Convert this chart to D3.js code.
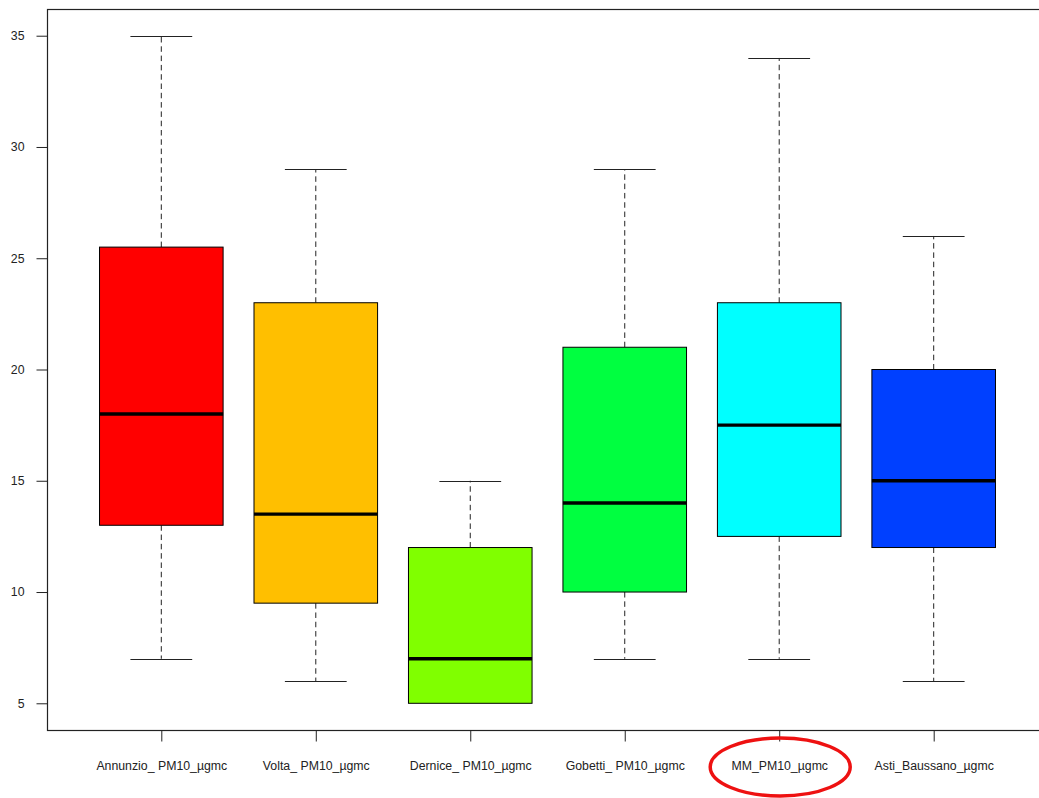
<!DOCTYPE html>
<html>
<head>
<meta charset="utf-8">
<script src="https://cdn.jsdelivr.net/npm/d3@7"></script>
<style>
  html, body { margin: 0; padding: 0; background: #fff; }
  svg { display: block; }
  text { font-family: "Liberation Sans", Arial, sans-serif; fill: #222; }
</style>
</head>
<body>
<svg id="chart" width="1039" height="798"></svg>
<script>
// Station names and five-number summaries of PM10 (µg/m³)
const stations = ["Annunzio_ PM10_\u00b5gmc", "Volta_ PM10_\u00b5gmc", "Dernice_ PM10_\u00b5gmc",
                  "Gobetti_ PM10_\u00b5gmc", "MM_PM10_\u00b5gmc", "Asti_Baussano_\u00b5gmc"];
const lowWhisker  = [7, 6, 5, 7, 7, 6];
const lowerQuart  = [13, 9.5, 5, 10, 12.5, 12];
const medians     = [18, 13.5, 7, 14, 17.5, 15];
const upperQuart  = [25.5, 23, 12, 21, 23, 20];
const highWhisker = [35, 29, 15, 29, 34, 26];
const boxColors   = ["#FF0000", "#FFBF00", "#80FF00", "#00FF40", "#00FFFF", "#0040FF"];
const yTicks      = [5, 10, 15, 20, 25, 30, 35];
const highlighted = "MM_PM10_\u00b5gmc";

const svg = d3.select("#chart");

// Plot region (R-style 4% padding on both axes)
const plotLeft = 47, plotTop = 9, plotRight = 1048, plotBottom = 730;
const n = stations.length;
const x = d3.scaleLinear().domain([0.26, n + 0.74]).range([plotLeft, plotRight]);
const y = d3.scaleLinear().domain([3.8, 36.2]).range([plotBottom, plotTop]);
const step = x(2) - x(1);
const boxW = 0.8 * step;
const capW = boxW / 2;
const dash = "5.5,3.8";

const data = stations.map((s, i) => ({
  name: s, pos: i + 1,
  lo: lowWhisker[i], q1: lowerQuart[i], med: medians[i], q3: upperQuart[i], hi: highWhisker[i],
  color: boxColors[i]
}));

const g = svg.append("g");

// whiskers (dashed)
g.selectAll(".whisker-up").data(data).join("line")
  .attr("x1", d => x(d.pos)).attr("x2", d => x(d.pos))
  .attr("y1", d => y(d.q3)).attr("y2", d => y(d.hi))
  .attr("stroke", "#222").attr("stroke-dasharray", dash);
g.selectAll(".whisker-down").data(data.filter(d => d.lo < d.q1)).join("line")
  .attr("x1", d => x(d.pos)).attr("x2", d => x(d.pos))
  .attr("y1", d => y(d.q1)).attr("y2", d => y(d.lo))
  .attr("stroke", "#222").attr("stroke-dasharray", dash);

// staples
["hi", "lo"].forEach(k => {
  g.selectAll(".cap-" + k).data(data.filter(d => k === "hi" || d.lo < d.q1)).join("line")
    .attr("x1", d => x(d.pos) - capW / 2).attr("x2", d => x(d.pos) + capW / 2)
    .attr("y1", d => Math.round(y(d[k])) + 0.5).attr("y2", d => Math.round(y(d[k])) + 0.5)
    .attr("stroke", "#222").attr("stroke-width", 1);
});

// boxes
g.selectAll(".box").data(data).join("rect")
  .attr("x", d => x(d.pos) - boxW / 2)
  .attr("y", d => y(d.q3))
  .attr("width", boxW)
  .attr("height", d => y(d.q1) - y(d.q3))
  .attr("fill", d => d.color)
  .attr("stroke", "#000").attr("stroke-width", 1);

// medians
g.selectAll(".median").data(data).join("line")
  .attr("x1", d => x(d.pos) - boxW / 2).attr("x2", d => x(d.pos) + boxW / 2)
  .attr("y1", d => y(d.med)).attr("y2", d => y(d.med))
  .attr("stroke", "#000").attr("stroke-width", 3.4);

// frame
svg.append("rect")
  .attr("x", plotLeft + 0.5).attr("y", plotTop + 0.5)
  .attr("width", plotRight - plotLeft).attr("height", plotBottom - plotTop)
  .attr("fill", "none").attr("stroke", "#222").attr("stroke-width", 1.2);

// y axis
const yAxis = svg.append("g").attr("transform", `translate(${plotLeft + 0.5},0)`)
  .call(d3.axisLeft(y).tickValues(yTicks).tickSize(11).tickPadding(12).tickFormat(d3.format("d")));
yAxis.select(".domain").remove();
yAxis.selectAll(".tick line").attr("stroke", "#222");
yAxis.selectAll("text").style("font-size", "12.3px").attr("fill", "#222")
  .style("font-family", "'Liberation Sans', Arial, sans-serif");

// x axis
const xAxis = svg.append("g").attr("transform", `translate(0,${plotBottom + 0.5})`)
  .call(d3.axisBottom(x).tickValues(d3.range(1, n + 1)).tickSize(11).tickPadding(20)
    .tickFormat(i => stations[i - 1]));
xAxis.select(".domain").remove();
xAxis.selectAll(".tick line").attr("stroke", "#222");
xAxis.selectAll("text").style("font-size", "12.3px").attr("fill", "#222")
  .style("font-family", "'Liberation Sans', Arial, sans-serif");

// highlight ring around the MM station label
const hiStation = data.find(d => d.name === highlighted);
svg.append("ellipse")
  .attr("cx", x(hiStation.pos) + 1).attr("cy", 767)
  .attr("rx", 70).attr("ry", 29)
  .attr("fill", "none").attr("stroke", "#EE1111").attr("stroke-width", 3.5);
</script>
</body>
</html>
